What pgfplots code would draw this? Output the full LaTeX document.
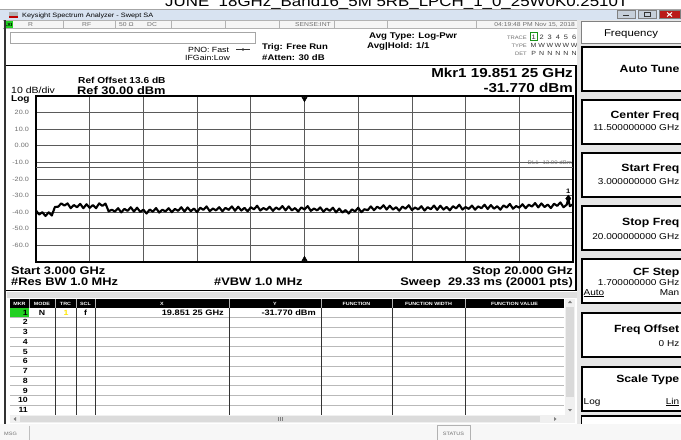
\documentclass[border=0pt]{standalone}
\usepackage{pgfplots}
\pgfplotsset{compat=1.18}
\usepackage{fontspec}
\setmainfont{Liberation Sans}[FakeStretch=1.17]
\newcommand\fs[1]{\fontsize{#1}{#1}\selectfont}
\newcommand\fb[1]{\fontsize{#1}{#1}\selectfont\bfseries}
\definecolor{tgray}{HTML}{707070}
\definecolor{dgray}{HTML}{333333}
\definecolor{panel}{HTML}{E6E6E6}
\definecolor{tbar}{HTML}{D8E3F1}
\definecolor{lxi}{HTML}{22D022}
\definecolor{gridc}{HTML}{5A5A5A}
\tikzset{t/.style={inner sep=0pt,anchor=base west},
 tr/.style={inner sep=0pt,anchor=base east},
 tc/.style={inner sep=0pt,anchor=base}}
\begin{document}
\begin{tikzpicture}
\path[clip, use as bounding box] (0,0) rectangle (681bp,-440bp);
\begin{scope}[x=1bp,y=-1bp]
\fill[white] (0,0) rectangle (681,440);
% cropped file title
\node[t] at (165,6.7) {\fs{14.5}JUNE\ \ 18GHz\_Band16\_5M 5RB\_LPCH\_1\_0\_25W0K0.2510T};
% window title bar
\fill[tbar] (0,9) rectangle (681,20);
\draw[gray!70] (0,9) -- (681,9);
\fill[gray!60] (9,11.5) rectangle (18,17.5);
\fill[red!75!black] (9,16) rectangle (18,17.5);
\node[t] at (22,17) {\fs{6.3}Keysight Spectrum Analyzer - Swept SA};
\draw[fill=tbar!80!gray, draw=gray] (617,10.5) rectangle (635,18);
\draw[dgray, line width=1] (623,15.5) -- (629,15.5);
\draw[fill=tbar!80!gray, draw=gray] (638,10.5) rectangle (656,18);
\draw[dgray] (644,12.5) rectangle (650,16.5);
\draw[fill=red!70!black!90, draw=gray] (659,10.5) rectangle (680,18);
\draw[white, line width=1] (667,12.5) -- (672,16.5) (667,16.5) -- (672,12.5);
% status row
\fill[gray!8] (3,20) rectangle (578,28.5);
\draw[gray!60] (3,20.5) -- (578,20.5) (3,28.5) -- (578,28.5);
\foreach \xx in {63,115,171,225,279,334,387,476} \draw[gray!60] (\xx,20.5) -- (\xx,28.5);
\fill[lxi] (4,21) rectangle (12.5,28);
\node[tc] at (8.25,26.3) {\fb{4.5}LXI};
\node[t] at (28,26.5) {\fs{5.8}\color{tgray}R};
\node[t] at (82,26.5) {\fs{5.8}\color{tgray}RF};
\node[t] at (119,26.5) {\fs{5.8}\color{tgray}50 Ω};
\node[t] at (147,26.5) {\fs{5.8}\color{tgray}DC};
\node[tr] at (331,26.5) {\fs{5.8}\color{tgray}SENSE:INT};
\node[tr] at (575,26.5) {\fs{5.8}\color{tgray}04:19:48 PM Nov 15, 2018};
% header area
\draw[gray!70] (10,32) rectangle (255,43.5);
\node[t] at (188,52) {\fs{7.5}PNO: Fast};
\draw[dgray, line width=0.6] (236,49.5) -- (250,49.5);
\fill[dgray] (243,49.5) circle (1.3);
\node[t] at (185,60.5) {\fs{7.5}IFGain:Low};
\node[t] at (262,49.5) {\fb{8.2}Trig: Free Run};
\node[t] at (262,60.5) {\fb{8.2}\#Atten: 30 dB};
\node[t] at (369,38.5) {\fb{8.3}Avg Type: Log-Pwr};
\node[t] at (367,48) {\fb{8.3}Avg|Hold: 1/1};
\node[tr] at (527,39) {\fs{5}\color{tgray}TRACE};
\node[tr] at (527,47) {\fs{5}\color{tgray}TYPE};
\node[tr] at (527,55) {\fs{5}\color{tgray}DET};
\draw[lxi!70!black, line width=0.6] (530.5,32.5) rectangle (537,40);
\foreach \c [count=\i] in {1,2,3,4,5,6} \node[tc] at (525.5+8.1*\i,39) {\fs{6.4}\color{dgray}\c};
\foreach \c [count=\i] in {M,W,W,W,W,W} \node[tc] at (525.5+8.1*\i,47) {\fs{6}\color{dgray}\c};
\foreach \c [count=\i] in {P,N,N,N,N,N} \node[tc] at (525.5+8.1*\i,55) {\fs{6}\color{dgray}\c};
% softkey panel
\fill[panel] (577,20) rectangle (681,425);
\draw[fill=white, draw=gray] (581,21) rectangle (682,43.5);
\node[tc] at (631,36.5) {\fs{9.8}Frequency};
\foreach \tp in {47,100,153,206,259,313,367} {
  \draw[fill=white, draw=black, line width=1.2] (581.6,\tp) rectangle (683,\tp+44);
  \draw[black, line width=2] (581.6,\tp) -- (581.6,\tp+44);
}
\draw[fill=white, draw=black, line width=1.2] (581.6,416) rectangle (683,426);
\node[tr] at (679.5,72) {\fb{10.5}Auto Tune};
\node[tr] at (679.5,118) {\fb{10.5}Center Freq};
\node[tr] at (679.5,130.5) {\fs{8.6}11.500000000 GHz};
\node[tr] at (679.5,171) {\fb{10.5}Start Freq};
\node[tr] at (679.5,184) {\fs{8.6}3.000000000 GHz};
\node[tr] at (679.5,225) {\fb{10.5}Stop Freq};
\node[tr] at (679.5,239.5) {\fs{8.6}20.000000000 GHz};
\node[tr] at (679.5,275) {\fb{10.5}CF Step};
\node[tr] at (679.5,285.5) {\fs{8.6}1.700000000 GHz};
\node[t] at (583.5,295) {\fs{8.6}\underline{Auto}};
\node[tr] at (679.5,295) {\fs{8.6}Man};
\node[tr] at (679.5,332) {\fb{10.5}Freq Offset};
\node[tr] at (679.5,346.5) {\fs{8.6}0 Hz};
\node[tr] at (679.5,382) {\fb{10.5}Scale Type};
\node[t] at (583.5,404) {\fs{8.6}Log};
\node[tr] at (679.5,404) {\fs{8.6}\underline{Lin}};
% graph panel
\fill[white] (4,64) rectangle (577,291);
\draw[black, line width=2] (5,65.5) rectangle (576,290.5);
\node[t] at (78,83.3) {\fb{8.7}Ref Offset 13.6 dB};
\node[t] at (11,93) {\fs{9}10 dB/div};
\node[t] at (77,94) {\fb{11}Ref 30.00 dBm};
\node[t] at (11,101.5) {\fb{8.6}Log};
\node[tr] at (573,77.3) {\fb{13}Mkr1 19.851 25 GHz};
\node[tr] at (573,92) {\fb{13}-31.770 dBm};
\node[t] at (11,274) {\fb{11}Start 3.000 GHz};
\node[t] at (11,285.5) {\fb{11}\#Res BW 1.0 MHz};
\node[t] at (214,285.5) {\fb{11}\#VBW 1.0 MHz};
\node[tr] at (573,274) {\fb{11}Stop 20.000 GHz};
\node[tr] at (573,285.5) {\fb{11}Sweep\ \ 29.33 ms (20001 pts)};
% strip
\fill[gray!25] (7,292) rectangle (577,297.5);
% marker table
\fill[black] (10,298.5) rectangle (564,307.5);
\foreach \xx in {29,55,76,95,229,321,392,465} \draw[gray!60, line width=0.8] (\xx,298.5) -- (\xx,307.5);
\node[tc] at (19.5,305) {\fb{4.6}\color{white}MKR};
\node[tc] at (42,305) {\fb{4.6}\color{white}MODE};
\node[tc] at (65.5,305) {\fb{4.6}\color{white}TRC};
\node[tc] at (85.5,305) {\fb{4.6}\color{white}SCL};
\node[tc] at (162,305) {\fb{4.6}\color{white}X};
\node[tc] at (275,305) {\fb{4.6}\color{white}Y};
\node[tc] at (356.5,305) {\fb{4.6}\color{white}FUNCTION};
\node[tc] at (428.5,305) {\fb{4.6}\color{white}FUNCTION WIDTH};
\node[tc] at (514.5,305) {\fb{4.6}\color{white}FUNCTION VALUE};
\fill[lxi] (10,307.5) rectangle (29,317.25);
\foreach \k in {1,...,11} \draw[gray!55] (10,307.5+9.75*\k) -- (564,307.5+9.75*\k);
\foreach \xx in {55,76,95,229,321,392,465} \draw[dgray, line width=0.7] (\xx,307.5) -- (\xx,414.75);
\foreach \k in {1,...,11} \node[tr] at (28,305.3+9.75*\k) {\fb{7.5}\k};
\node[tc] at (42,315.05) {\fb{7.5}N};
\node[tc] at (66,315.05) {\fb{7.5}\color{yellow!90!orange}1};
\node[tc] at (85.5,315.05) {\fb{7.5}f};
\node[tr] at (224,315.05) {\fb{7.9}19.851 25 GHz};
\node[tr] at (316,315.05) {\fb{7.9}-31.770 dBm};
% vertical scrollbar
\fill[gray!12] (565,298.5) rectangle (575,414.75);
\fill[gray!30] (566,307) rectangle (574,397);
\fill[gray] (568,303) -- (572,303) -- (570,300.5) -- cycle;
\fill[gray] (568,409) -- (572,409) -- (570,411.5) -- cycle;
% horizontal scrollbar
\fill[gray!12] (10,415) rectangle (575,423);
\fill[gray!28] (20,416) rectangle (540,422);
\fill[gray] (16,417) -- (16,421) -- (13.5,419) -- cycle;
\fill[gray] (554,417) -- (554,421) -- (556.5,419) -- cycle;
\draw[gray] (278,417) -- (278,421) (280,417) -- (280,421) (282,417) -- (282,421);
% left frame
\draw[dgray, line width=1.6] (4.8,20) -- (4.8,424);
% bottom bar
\fill[gray!6] (0,424) rectangle (681,440);
\node[t] at (4,435.5) {\fs{4.8}\color{tgray}MSG};
\draw[gray!50] (29,425.5) -- (29,440);
\draw[gray!60] (437,425.5) rectangle (470,441);
\node[tc] at (453.5,435) {\fs{4.8}\color{tgray}STATUS};
\end{scope}
\begin{axis}[
 at={(36bp,-262bp)}, anchor=south west,
 width=537bp, height=166bp, scale only axis,
 xmin=3, xmax=20, ymin=-70, ymax=30,
 xtick={3,4.7,6.4,8.1,9.8,11.5,13.2,14.9,16.6,18.3,20},
 xticklabels={},
 ytick={-60,-50,-40,-30,-20,-10,0,10,20},
 yticklabels={-60.0,-50.0,-40.0,-30.0,-20.0,-10.0,0.00,10.0,20.0},
 major tick length=0pt,
 grid=major,
 major grid style={gridc, line width=0.7bp},
 axis line style={black, line width=1.2bp},
 yticklabel style={font=\fs{6.2}, text=tgray, anchor=east, inner sep=0pt, xshift=-7bp},
 clip=false,
]
\addplot[gridc, line width=0.7bp] coordinates {(3,-13) (20,-13)};
\node[anchor=base east, inner sep=0pt] at (axis cs:19.97,-11.3) {\fs{5.2}\color{tgray}DL1 -13.00 dBm};
\addplot[black, line width=2.1bp, line join=round] coordinates {
(3.0,-39.0)(3.1,-41.4)(3.2,-40.0)(3.3,-42.3)(3.4,-40.1)(3.5,-42.0)(3.6,-36.8)(3.7,-36.7)(3.8,-34.7)(3.9,-36.0)
(4.0,-34.7)(4.1,-37.6)(4.2,-35.7)(4.3,-37.0)(4.4,-35.0)(4.5,-37.6)(4.6,-35.2)(4.7,-37.4)(4.8,-35.7)(4.9,-37.6)
(5.0,-34.7)(5.1,-36.2)(5.2,-34.8)(5.3,-39.5)(5.4,-38.5)(5.5,-39.6)(5.6,-37.6)(5.7,-40.1)(5.8,-38.0)(5.9,-39.2)
(6.0,-37.0)(6.1,-39.6)(6.2,-37.3)(6.3,-39.8)(6.4,-38.5)(6.5,-40.8)(6.6,-38.4)(6.7,-39.7)(6.8,-37.5)(6.9,-40.2)
(7.0,-38.5)(7.1,-39.5)(7.2,-37.6)(7.3,-40.0)(7.4,-38.0)(7.5,-39.2)(7.6,-37.0)(7.7,-39.6)(7.8,-37.1)(7.9,-39.4)
(8.0,-37.8)(8.1,-39.9)(8.2,-37.3)(8.3,-38.6)(8.4,-36.5)(8.5,-39.4)(8.6,-37.8)(8.7,-38.9)(8.8,-37.0)(8.9,-39.4)
(9.0,-37.4)(9.1,-38.6)(9.2,-36.5)(9.3,-39.1)(9.4,-36.7)(9.5,-39.0)(9.6,-37.4)(9.7,-39.5)(9.8,-37.0)(9.9,-38.3)
(10.0,-36.1)(10.1,-39.0)(10.2,-37.5)(10.3,-38.6)(10.4,-36.7)(10.5,-39.2)(10.6,-37.2)(10.7,-38.4)(10.8,-36.3)(10.9,-38.9)
(11.0,-36.5)(11.1,-38.9)(11.2,-37.5)(11.3,-39.6)(11.4,-37.1)(11.5,-38.4)(11.6,-36.3)(11.7,-39.2)(11.8,-37.8)(11.9,-38.9)
(12.0,-37.1)(12.1,-39.7)(12.2,-37.8)(12.3,-39.2)(12.4,-37.3)(12.5,-40.1)(12.6,-37.8)(12.7,-40.2)(12.8,-38.7)(12.9,-40.8)
(13.0,-38.3)(13.1,-39.5)(13.2,-37.3)(13.3,-40.0)(13.4,-38.2)(13.5,-38.8)(13.6,-36.5)(13.7,-38.8)(13.8,-36.7)(13.9,-37.9)
(14.0,-35.8)(14.1,-38.4)(14.2,-36.1)(14.3,-38.4)(14.4,-37.0)(14.5,-39.1)(14.6,-36.6)(14.7,-37.9)(14.8,-35.8)(14.9,-38.7)
(15.0,-37.2)(15.1,-38.3)(15.2,-36.4)(15.3,-39.0)(15.4,-37.0)(15.5,-38.2)(15.6,-36.0)(15.7,-38.6)(15.8,-36.1)(15.9,-38.4)
(16.0,-36.8)(16.1,-38.9)(16.2,-36.4)(16.3,-37.7)(16.4,-35.5)(16.5,-38.4)(16.6,-36.9)(16.7,-38.0)(16.8,-36.0)(16.9,-38.5)
(17.0,-36.5)(17.1,-37.6)(17.2,-35.5)(17.3,-38.1)(17.4,-35.7)(17.5,-37.9)(17.6,-36.4)(17.7,-38.5)(17.8,-35.9)(17.9,-37.2)
(18.0,-35.0)(18.1,-37.9)(18.2,-36.3)(18.3,-37.3)(18.4,-35.2)(18.5,-37.6)(18.6,-35.5)(18.7,-36.6)(18.8,-34.5)(18.9,-37.1)
(19.0,-34.7)(19.1,-36.9)(19.2,-35.4)(19.3,-37.5)(19.4,-34.9)(19.5,-36.2)(19.6,-34.1)(19.7,-37.0)(19.8,-35.5)(19.851,-31.77)(19.9,-36.4)(20.0,-35.2)
};
\addplot[only marks, mark=diamond*, mark size=3.5bp, black] coordinates {(19.851,-31.77)};
\node[above, inner sep=1.5bp] at (axis cs:19.851,-30) {\fb{6.5}1};
\addplot[only marks, mark=triangle*, mark size=3bp, mark options={rotate=180, black}] coordinates {(11.5,28.3)};
\addplot[only marks, mark=triangle*, mark size=3bp, mark options={black}] coordinates {(11.5,-68.3)};
\end{axis}
\end{tikzpicture}
\end{document}
